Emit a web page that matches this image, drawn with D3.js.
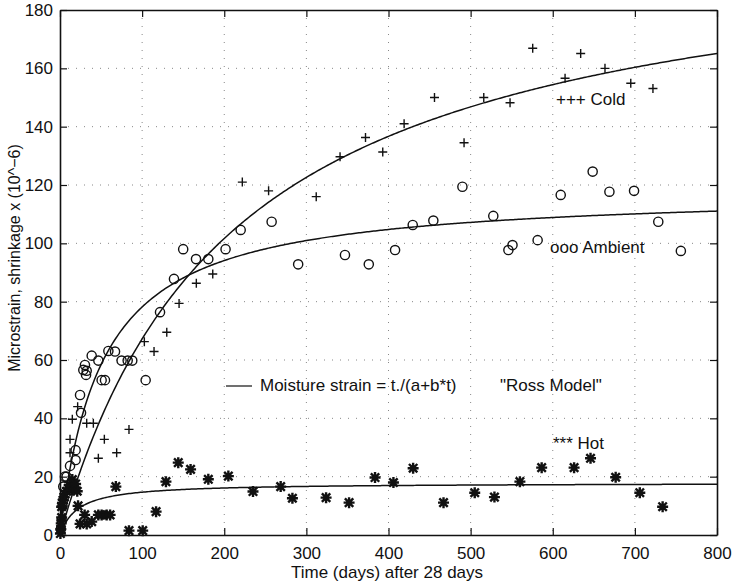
<!DOCTYPE html>
<html>
<head>
<meta charset="utf-8">
<script src="https://cdn.jsdelivr.net/npm/d3@7"></script>
<style>
  body { margin: 0; background: #fff; }
  svg text { font-family: "Liberation Sans", Arial, Helvetica, sans-serif; fill: #111; }
</style>
</head>
<body>
<svg id="chart" width="739" height="585"></svg>
<script>
// data: [days, microstrain]
const coldPts = [[1,3],[2,6],[3,9],[5,12],[8,16],[12.2,28.2],[12.2,32.8],[15,39.7],[21.5,44],[32.5,38.3],[40.6,38.3],
  [46.7,26.3],[54,32.8],[69,28.2],[84,36.2],[102.7,66.3],[114.5,62.9],[130,69.5],[145,79.4],[166,86.3],[186,89.5],
  [222,121],[254,118],[312,116],[341,129.7],[372,136.3],[393,131.3],[419,141],[456,150],[492,134.5],[516,150],
  [548,148.2],[575.6,166.9],[615,156.6],[634,165.1],[663.6,160],[695,154.9],[722,153.1]];

const ambientPts = [[1,2],[2,5],[3,10],[4,16.6],[6,20],[8,20],[12.2,23.7],[19,25.7],[19,29.1],[24.4,48],[25.6,41.9],
  [28.4,56.6],[30.4,58.3],[31.7,54.9],[32.5,56.3],[38.6,61.5],[46.7,59.8],[50.7,53.1],[54.8,53.1],[58.9,63.1],[67,62.9],
  [75,59.8],[82.4,59.8],[88,59.8],[104.3,53.1],[121.8,76.4],[138.8,87.8],[150,98],[165.6,94.6],[180.6,94.6],[201.6,98],
  [220,104.6],[257.7,107.4],[290,92.8],[347,96],[376,92.8],[408,97.7],[429.5,106.3],[454.6,107.8],[490,119.4],
  [527.6,109.4],[546,97.7],[551,99.4],[581.6,101.1],[609.7,116.6],[648.6,124.6],[669,117.7],[699,118],[728.5,107.4],[756,97.4]];

const hotPts = [[0.5,0.5],[1,2],[1.5,4],[2,6],[2,9.7],[3,11],[4,12],[5,13],[6,14],[8,15],[10,16],[12,17],[14,15.5],
  [15,19],[17,16],[19,17.5],[21,15],[22,10],[24.4,3.8],[30,6.9],[32.5,3.8],[38.6,4.6],[46.7,6.9],[50.7,6.9],[56.8,6.9],
  [61,6.9],[68,16.6],[84,1.5],[100.7,1.5],[117,8],[129,18.3],[144,24.8],[159,22.5],[180.6,19.1],[205,20.2],[235,14.9],
  [268.7,16.6],[283,12.6],[324,12.8],[352,11.1],[383.6,19.7],[406,18],[430,22.9],[467,11.1],[505,14.5],[529,13],
  [560,18.3],[586.5,23.1],[626,23.1],[646,26.3],[676.6,19.8],[706,14.5],[733.8,9.7]];

// Ross model fits t/(a+b*t): [a, b]
const coldFit = [1.0077, 0.004797];
const ambientFit = [0.4324, 0.008465];
const hotFit = [1.22, 0.05595];

const xTicks = [0, 100, 200, 300, 400, 500, 600, 700, 800];
const yTicks = [0, 20, 40, 60, 80, 100, 120, 140, 160, 180];

const svg = d3.select("#chart");
const m = { left: 60, right: 717, top: 10, bottom: 535 };

const x = d3.scaleLinear().domain([0, 800]).range([m.left, m.right]);
const y = d3.scaleLinear().domain([0, 180]).range([m.bottom, m.top]);

// dotted grid
const grid = svg.append("g").attr("stroke", "#888").attr("stroke-width", 1)
  .attr("stroke-dasharray", "1,7");
grid.selectAll(".gx").data(xTicks.slice(1, -1)).join("line").attr("class", "gx")
  .attr("x1", d => x(d)).attr("x2", d => x(d)).attr("y1", m.top).attr("y2", m.bottom);
grid.selectAll(".gy").data(yTicks.slice(1, -1)).join("line").attr("class", "gy")
  .attr("x1", m.left).attr("x2", m.right).attr("y1", d => y(d)).attr("y2", d => y(d));

// axes with inward ticks on all four sides
const fmt = d3.format("d");
const axB = svg.append("g").attr("transform", `translate(0,${m.bottom})`)
  .call(d3.axisBottom(x).tickValues(xTicks).tickSizeInner(-7).tickSizeOuter(0).tickPadding(12).tickFormat(fmt));
const axT = svg.append("g").attr("transform", `translate(0,${m.top})`)
  .call(d3.axisTop(x).tickValues(xTicks).tickSizeInner(-7).tickSizeOuter(0).tickFormat(""));
const axL = svg.append("g").attr("transform", `translate(${m.left},0)`)
  .call(d3.axisLeft(y).tickValues(yTicks).tickSizeInner(-7).tickSizeOuter(0).tickPadding(7).tickFormat(fmt));
const axR = svg.append("g").attr("transform", `translate(${m.right},0)`)
  .call(d3.axisRight(y).tickValues(yTicks).tickSizeInner(-7).tickSizeOuter(0).tickFormat(""));
[axB, axT, axL, axR].forEach(g => {
  g.select(".domain").attr("stroke", "#111").attr("stroke-width", 1.6);
  g.selectAll(".tick line").attr("stroke", "#111").attr("stroke-width", 1.2);
  g.selectAll("text").attr("font-size", 17).attr("fill", "#111")
    .attr("font-family", '"Liberation Sans", Arial, sans-serif');
});

// model curves
const tGrid = d3.range(0, 801, 2);
const line = d3.line().x(d => x(d[0])).y(d => y(d[1]));
[coldFit, ambientFit, hotFit].forEach(f => {
  svg.append("path")
    .datum(tGrid.map(t => [t, t / (f[0] + f[1] * t)]))
    .attr("d", line).attr("fill", "none").attr("stroke", "#111").attr("stroke-width", 1.5);
});

// markers
svg.append("g").selectAll("path").data(coldPts).join("path")
  .attr("transform", d => `translate(${x(d[0])},${y(d[1])})`)
  .attr("d", "M-4.5,0H4.5M0,-4.5V4.5")
  .attr("stroke", "#111").attr("stroke-width", 1.4);

svg.append("g").selectAll("circle").data(ambientPts).join("circle")
  .attr("cx", d => x(d[0])).attr("cy", d => y(d[1])).attr("r", 4.6)
  .attr("fill", "none").attr("stroke", "#111").attr("stroke-width", 1.4);

svg.append("g").selectAll("path").data(hotPts).join("path")
  .attr("transform", d => `translate(${x(d[0])},${y(d[1])})`)
  .attr("d", "M-5.5,0H5.5M0,-5.5V5.5M-4.2,-4.2L4.2,4.2M-4.2,4.2L4.2,-4.2")
  .attr("stroke", "#111").attr("stroke-width", 2.4);

// annotations
svg.append("line").attr("x1", 226).attr("x2", 252).attr("y1", 386).attr("y2", 386)
  .attr("stroke", "#111").attr("stroke-width", 1.2);
svg.append("text").attr("x", 260).attr("y", 391).attr("font-size", 17)
  .text("Moisture strain = t./(a+b*t)");
svg.append("text").attr("x", 500).attr("y", 391).attr("font-size", 17)
  .text("\"Ross Model\"");
svg.append("text").attr("x", 556).attr("y", 105).attr("font-size", 17).text("+++ Cold");
svg.append("text").attr("x", 550).attr("y", 253).attr("font-size", 17).text("ooo Ambient");
svg.append("text").attr("x", 553).attr("y", 449).attr("font-size", 17).text("*** Hot");

// axis titles
svg.append("text").attr("x", 387).attr("y", 578).attr("text-anchor", "middle")
  .attr("font-size", 17).text("Time (days) after 28 days");
svg.append("text").attr("transform", "translate(20,258) rotate(-90)")
  .attr("text-anchor", "middle").attr("font-size", 16)
  .text("Microstrain, shrinkage x (10^\u22126)");
</script>
</body>
</html>
